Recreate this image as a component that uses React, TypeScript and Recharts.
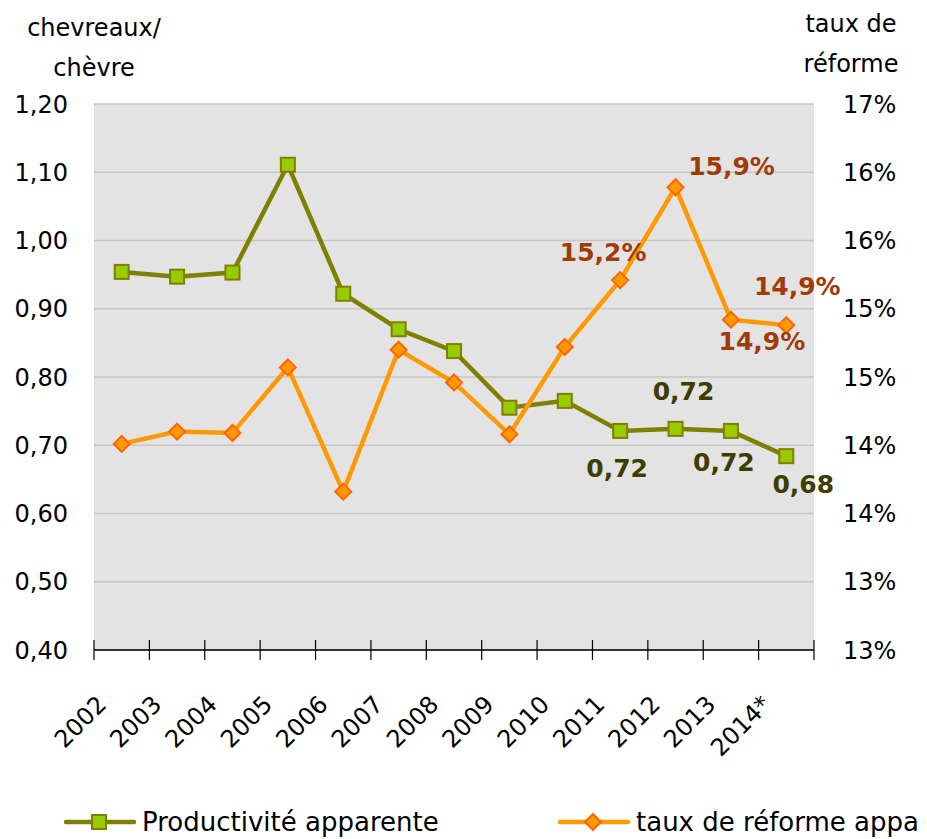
import { LineChart, Line, XAxis, YAxis, CartesianGrid, Legend, LabelList } from 'recharts'

const years = ['2002', '2003', '2004', '2005', '2006', '2007', '2008', '2009', '2010', '2011', '2012', '2013', '2014*']
// chevreaux / chèvre
const productivite = [0.954, 0.947, 0.953, 1.111, 0.922, 0.87, 0.838, 0.755, 0.765, 0.721, 0.724, 0.721, 0.684]
// taux de réforme apparent (%)
const tauxReforme = [14.01, 14.1, 14.09, 14.57, 13.66, 14.7, 14.46, 14.08, 14.72, 15.21, 15.89, 14.92, 14.88]
const leftTicks = [0.4, 0.5, 0.6, 0.7, 0.8, 0.9, 1.0, 1.1, 1.2]
const rightTicks = [12.5, 13, 13.5, 14, 14.5, 15, 15.5, 16, 16.5]

const FONT = '"DejaVu Sans", sans-serif'
const GREEN = '#808000'
const ORANGE = '#ff9900'

// where the value labels sit, relative to the point (dx, dy of label centre)
const prodLabelPos: Record<number, [number, number]> = {
  9: [-3, 38],
  10: [8, -37],
  11: [-7, 32],
  12: [17, 28],
}
const tauxLabelPos: Record<number, [number, number]> = {
  9: [-17, -28],
  10: [56, -21],
  11: [31, 22],
  12: [11, -39],
}

const data = years.map((y, i) => ({ year: y, prod: productivite[i], taux: tauxReforme[i] }))

const fmtComma = (v: number, d: number) => v.toFixed(d).replace('.', ',')

function Square(props: any) {
  const { cx, cy } = props
  if (cx == null || cy == null) return null
  return <rect x={cx - 7} y={cy - 7} width={14} height={14} fill="#99cc00" stroke={GREEN} strokeWidth={2} />
}

function Diamond(props: any) {
  const { cx, cy } = props
  if (cx == null || cy == null) return null
  const r = 8
  return (
    <polygon
      points={`${cx},${cy - r} ${cx + r},${cy} ${cx},${cy + r} ${cx - r},${cy}`}
      fill={ORANGE}
      stroke="#ff6600"
      strokeWidth={2}
    />
  )
}

function makeLabel(pos: Record<number, [number, number]>, color: string, fmt: (v: number) => string) {
  return (props: any) => {
    const { x, y, value, index } = props
    const p = pos[index]
    if (!p) return null
    return (
      <text
        x={x + p[0]}
        y={y + p[1]}
        textAnchor="middle"
        dominantBaseline="central"
        fontFamily={FONT}
        fontWeight="bold"
        fontSize={25}
        fill={color}
      >
        {fmt(value)}
      </text>
    )
  }
}

// year label + the tick marks between categories (Excel style)
function YearTick(props: any) {
  const { x, y, payload, index } = props
  const half = payload.offset ?? 0
  const ax = x - 14
  const ay = y + 56
  return (
    <g>
      <line x1={x - half} x2={x - half} y1={y - 10} y2={y + 10} stroke="#000" strokeWidth={1.2} />
      {index === years.length - 1 && (
        <line x1={x + half} x2={x + half} y1={y - 10} y2={y + 10} stroke="#000" strokeWidth={1.2} />
      )}
      <text
        x={ax}
        y={ay}
        textAnchor="end"
        transform={`rotate(-45, ${ax}, ${ay})`}
        fontFamily={FONT}
        fontSize={24}
        fill="#000"
      >
        {payload.value}
      </text>
    </g>
  )
}

function LeftTitle(props: any) {
  const vb = props.viewBox
  const cx = vb.x + vb.width
  return (
    <g fontFamily={FONT} fontSize={24} fill="#000" textAnchor="middle">
      <text x={cx} y={vb.y - 68}>chevreaux/</text>
      <text x={cx} y={vb.y - 28}>chèvre</text>
    </g>
  )
}

function RightTitle(props: any) {
  const vb = props.viewBox
  const cx = vb.x + 37
  return (
    <g fontFamily={FONT} fontSize={24} fill="#000" textAnchor="middle">
      <text x={cx} y={vb.y - 72}>taux de</text>
      <text x={cx} y={vb.y - 32}>réforme</text>
    </g>
  )
}

function LegendContent() {
  const item = (left: number, label: string, marker: 'square' | 'diamond') => (
    <div style={{ position: 'absolute', left, top: 10, display: 'flex', alignItems: 'center', whiteSpace: 'nowrap' }}>
      <svg width={72} height={24}>
        <line x1={2} x2={70} y1={12} y2={12} stroke={marker === 'square' ? GREEN : ORANGE} strokeWidth={4.5} strokeLinecap="round" />
        {marker === 'square' ? <Square cx={35} cy={12} /> : <Diamond cx={35} cy={12} />}
      </svg>
      <span style={{ fontFamily: FONT, fontSize: 26, lineHeight: '26px', color: '#000', marginLeft: 6 }}>{label}</span>
    </div>
  )
  return (
    <div style={{ position: 'relative', width: 927, height: 40 }}>
      {item(64, 'Productivité apparente', 'square')}
      {item(558, 'taux de réforme appa', 'diamond')}
    </div>
  )
}

export default function App() {
  return (
    <div style={{ position: 'absolute', left: 0, top: 0, width: 927, height: 839, overflow: 'hidden', background: '#fff' }}>
      <LineChart width={927} height={839} data={data} margin={{ top: 104, right: 0, left: 0, bottom: 0 }}>
        <CartesianGrid
          yAxisId="left"
          vertical={false}
          horizontalValues={leftTicks}
          stroke="#c6c6c6"
          strokeWidth={1.5}
          fill="#e3e3e3"
        />
        <XAxis
          dataKey="year"
          type="category"
          scale="band"
          interval={0}
          tick={<YearTick />}
          tickLine={false}
          axisLine={{ stroke: '#000', strokeWidth: 1.5 }}
          tickSize={0}
          tickMargin={0}
          height={149}
        />
        <YAxis
          yAxisId="left"
          domain={[0.4, 1.2]}
          ticks={leftTicks}
          tickFormatter={(v: number) => fmtComma(v, 2)}
          axisLine={false}
          tickLine={false}
          tickMargin={20}
          width={94}
          tick={{ fontFamily: FONT, fontSize: 24, fill: '#000' }}
          label={{ content: <LeftTitle /> }}
        />
        <YAxis
          yAxisId="right"
          orientation="right"
          domain={[12.5, 16.5]}
          ticks={rightTicks}
          tickFormatter={(v: number) => `${Math.round(v)}%`}
          axisLine={false}
          tickLine={false}
          tickMargin={23}
          width={113}
          tick={{ fontFamily: FONT, fontSize: 24, fill: '#000', textAnchor: 'start' }}
          label={{ content: <RightTitle /> }}
        />
        <Legend verticalAlign="bottom" height={40} content={<LegendContent />} />
        <Line
          yAxisId="left"
          dataKey="prod"
          name="Productivité apparente"
          stroke={GREEN}
          strokeWidth={4.5}
          dot={<Square />}
          activeDot={false}
          isAnimationActive={false}
        >
          <LabelList dataKey="prod" content={makeLabel(prodLabelPos, '#3d3d00', (v) => fmtComma(v, 2))} />
        </Line>
        <Line
          yAxisId="right"
          dataKey="taux"
          name="taux de réforme apparent"
          stroke={ORANGE}
          strokeWidth={4.5}
          dot={<Diamond />}
          activeDot={false}
          isAnimationActive={false}
        >
          <LabelList dataKey="taux" content={makeLabel(tauxLabelPos, '#a03c08', (v) => `${fmtComma(v, 1)}%`)} />
        </Line>
      </LineChart>
    </div>
  )
}
